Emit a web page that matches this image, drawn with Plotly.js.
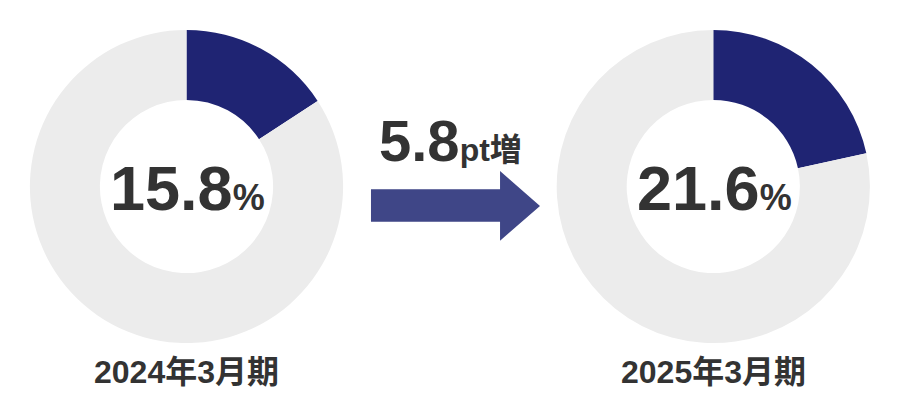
<!DOCTYPE html>
<html>
<head>
<meta charset="utf-8">
<script src="https://cdn.plot.ly/plotly-3.0.1.min.js"></script>
<style>
  html, body { margin: 0; padding: 0; background: #fff; }
  #chart { width: 900px; height: 410px; }
</style>
</head>
<body>
<div id="chart"></div>
<script>
// share of the whole, in percent
const periods = ['2024年3月期', '2025年3月期'];
const shares = [15.8, 21.6];
const sliceLabels = ['比率', 'その他'];
const changeLabel = '5.8';
const changeUnit = 'pt増';

const W = 900, H = 410;
const NAVY = '#1f2473';
const GREY = '#ececec';
const ARROW = '#3f4687';
const TEXT = '#333333';
// latin glyphs from Liberation Sans, kanji fall through to Noto CJK
const FONT = 'Liberation Sans, Noto Sans CJK JP, sans-serif';

// pixel helpers -> paper coords
const px = (x) => x / W;
const py = (y) => (H - y) / H;

const centers = [186.5, 713.3];
const cy = 186.5;
const R = 156.6;

const traces = shares.map((v, i) => ({
  type: 'pie',
  values: [v, 100 - v],
  labels: sliceLabels,
  sort: false,
  direction: 'clockwise',
  rotation: 0,
  hole: 0.553,
  textinfo: 'none',
  hoverinfo: 'label+percent',
  marker: { colors: [NAVY, GREY], line: { width: 0 } },
  domain: {
    x: [px(centers[i] - R), px(centers[i] + R)],
    y: [py(cy + R), py(cy - R)],
  },
  showlegend: false,
}));

const annotations = [];
shares.forEach((v, i) => {
  annotations.push({
    xref: 'paper', yref: 'paper',
    x: px(centers[i] + 1), y: py(188),
    xanchor: 'center', yanchor: 'middle',
    text: `<b>${v.toFixed(1)}</b><b><span style="font-size:36px">%</span></b>`,
    showarrow: false,
    font: { family: FONT, size: 63, color: TEXT },
  });
  annotations.push({
    xref: 'paper', yref: 'paper',
    x: px(centers[i]), y: py(372),
    xanchor: 'center', yanchor: 'middle',
    text: `<b>${periods[i]}</b>`,
    showarrow: false,
    font: { family: FONT, size: 32, color: TEXT },
  });
});

annotations.push({
  xref: 'paper', yref: 'paper',
  x: px(451), y: py(140),
  xanchor: 'center', yanchor: 'middle',
  text: `<b>${changeLabel}</b><b><span style="font-size:32px">${changeUnit}</span></b>`,
  showarrow: false,
  font: { family: FONT, size: 58, color: TEXT },
});

// block arrow between the two donuts
const arrowPts = [
  [371, 189.3], [500, 189.3], [500, 171], [540, 206],
  [500, 240.7], [500, 221.7], [371, 221.7],
];
const arrowPath = 'M ' + arrowPts.map(([x, y]) => `${px(x).toFixed(4)},${py(y).toFixed(4)}`).join(' L ') + ' Z';

const layout = {
  width: W,
  height: H,
  margin: { l: 0, r: 0, t: 0, b: 0 },
  paper_bgcolor: '#ffffff',
  plot_bgcolor: '#ffffff',
  showlegend: false,
  annotations,
  shapes: [{
    type: 'path',
    xref: 'paper', yref: 'paper',
    path: arrowPath,
    fillcolor: ARROW,
    line: { width: 0 },
  }],
};

Plotly.newPlot('chart', traces, layout, { displayModeBar: false, staticPlot: true });
</script>
</body>
</html>
